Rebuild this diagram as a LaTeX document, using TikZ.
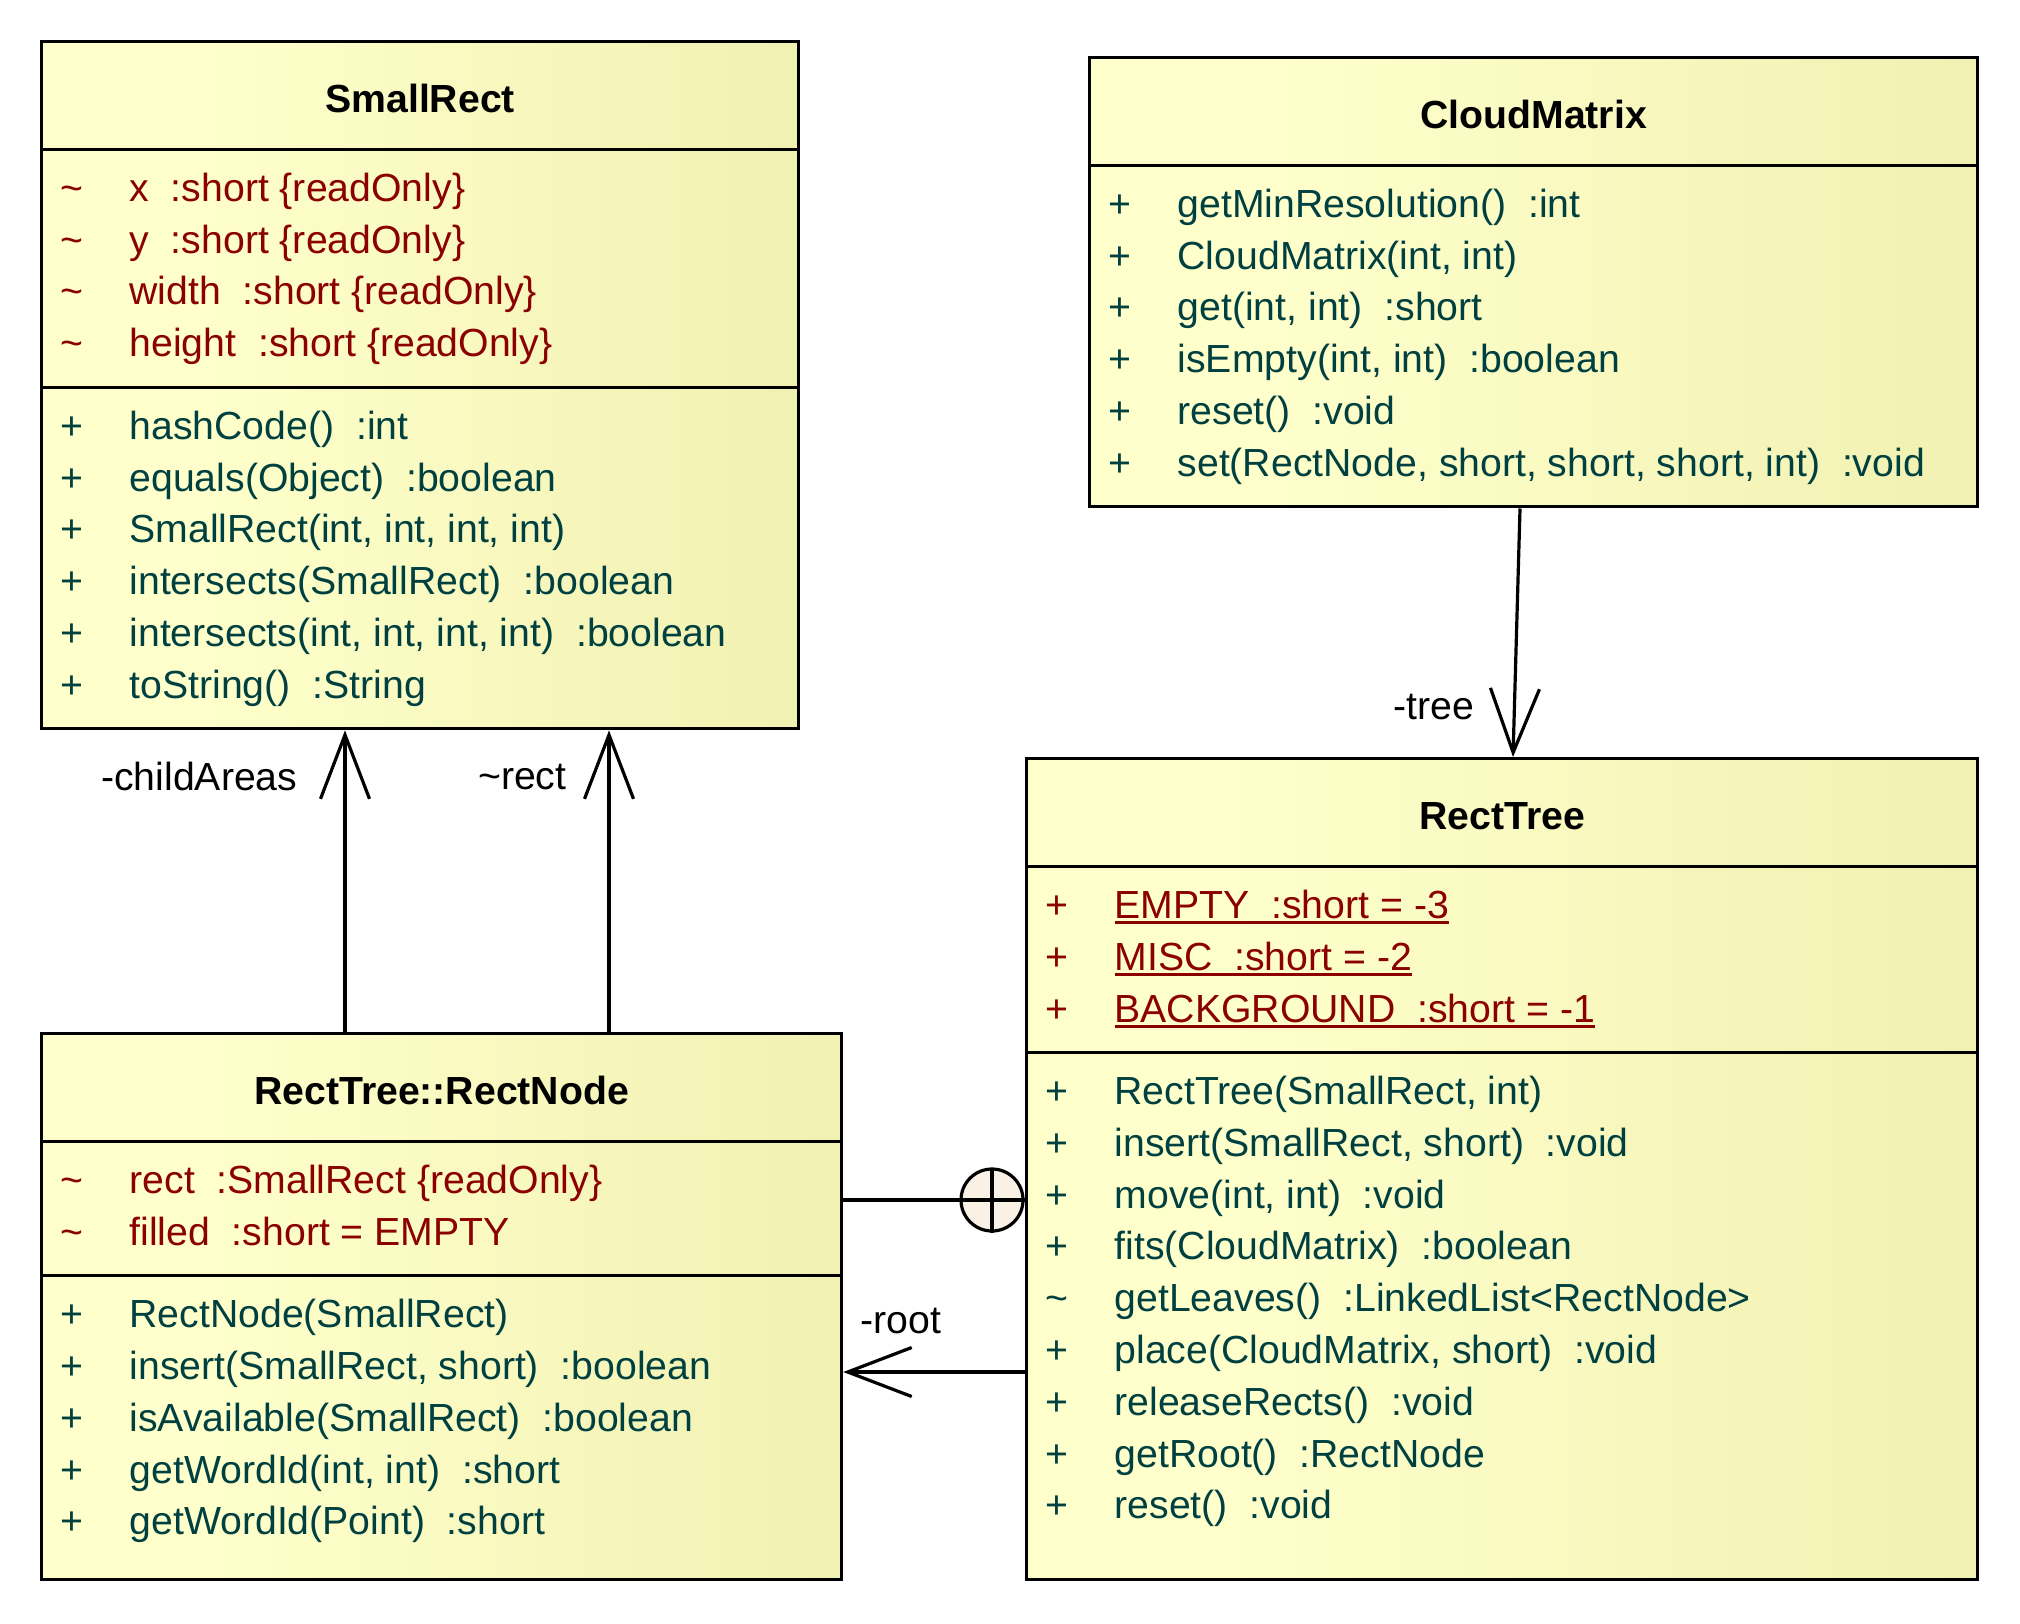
\documentclass[tikz,border=0pt]{standalone}
\usepackage{fontspec}
\setmainfont{Liberation Sans}
\usepackage{array}
\usetikzlibrary{arrows.meta,positioning,shapes.multipart}

\definecolor{attrred}{HTML}{8B0000}
\definecolor{opteal}{HTML}{004040}
\definecolor{nestfill}{HTML}{F9F1E5}
\definecolor{classlight}{HTML}{FFFFCC}
\definecolor{classdark}{HTML}{E8E8A2}
\pgfdeclarehorizontalshading{classgrad}{100bp}{color(0bp)=(classlight); color(35bp)=(classlight); color(100bp)=(classdark)}

\renewcommand{\arraystretch}{0}
\newcommand{\umlfont}{\fontsize{9.8pt}{12pt}\selectfont}
\newcommand{\rowstrut}{\rule[-3.475pt]{0pt}{12.95pt}}
\newcommand{\classtitle}[2]{\makebox[#1]{\rule[-8.9pt]{0pt}{26.15pt}\textbf{#2}}}
\newcommand{\static}[1]{\setbox0\hbox{#1}\rlap{\rule[-1.4pt]{\wd0}{0.7pt}}\box0}
\newcommand{\padrow}[1]{\multicolumn{2}{@{}l@{}}{\rule{0pt}{#1}}}
\newenvironment{members}[1]{\begin{tabular}{@{\hspace{4.625pt}}>{\rowstrut}w{l}{17.375pt}@{}w{l}{\dimexpr#1-22pt\relax}@{}}\padrow{3.125pt}\\}{\\\padrow{3.75pt}\end{tabular}}

\begin{document}
\begin{tikzpicture}[x=0.25pt, y=-0.25pt,
    umlclass/.style={rectangle split, rectangle split parts=3, draw=black, line width=0.8pt,
    inner sep=0pt, anchor=north west, shade, shading=classgrad, font=\umlfont},
    assoc/.style={line width=0.8pt, -{Straight Barb[length=16pt,width=12.25pt]}},
    nest/.style={line width=0.8pt},
    role/.style={font=\umlfont, inner sep=0pt}]
    \useasboundingbox (0,0) rectangle (2020,1624);

    \node (smallrect) [umlclass] at (40,40)
    {%
        \classtitle{189.25pt}{SmallRect}%
        \nodepart{second}\color{attrred}%
        \begin{members}{189.25pt}
            \textasciitilde & x\ \ :short \{readOnly\}\\
            \textasciitilde & y\ \ :short \{readOnly\}\\
            \textasciitilde & width\ \ :short \{readOnly\}\\
            \textasciitilde & height\ \ :short \{readOnly\}
        \end{members}%
        \nodepart{third}\color{opteal}%
        \begin{members}{189.25pt}
            + & hashCode()\ \ :int\\
            + & equals(Object)\ \ :boolean\\
            + & SmallRect(int, int, int, int)\\
            + & intersects(SmallRect)\ \ :boolean\\
            + & intersects(int, int, int, int)\ \ :boolean\\
            + & toString()\ \ :String
        \end{members}%
    };

    \node (cloudmatrix) [umlclass, rectangle split parts=2] at (1088,56)
    {%
        \classtitle{222pt}{CloudMatrix}%
        \nodepart{second}\color{opteal}%
        \begin{members}{222pt}
            + & getMinResolution()\ \ :int\\
            + & CloudMatrix(int, int)\\
            + & get(int, int)\ \ :short\\
            + & isEmpty(int, int)\ \ :boolean\\
            + & reset()\ \ :void\\
            + & set(RectNode, short, short, short, int)\ \ :void
        \end{members}%
    };

    \node (recttree) [umlclass] at (1025,757)
    {%
        \classtitle{237.75pt}{RectTree}%
        \nodepart{second}\color{attrred}%
        \begin{members}{237.75pt}
            + & \static{EMPTY\ \ :short = -3}\\
            + & \static{MISC\ \ :short = -2}\\
            + & \static{BACKGROUND\ \ :short = -1}
        \end{members}%
        \nodepart{third}\color{opteal}%
        \begin{members}{237.75pt}
            + & RectTree(SmallRect, int)\\
            + & insert(SmallRect, short)\ \ :void\\
            + & move(int, int)\ \ :void\\
            + & fits(CloudMatrix)\ \ :boolean\\
            \textasciitilde & getLeaves()\ \ :LinkedList<RectNode>\\
            + & place(CloudMatrix, short)\ \ :void\\
            + & releaseRects()\ \ :void\\
            + & getRoot()\ \ :RectNode\\
            + & reset()\ \ :void\\
            \padrow{7.6pt}
        \end{members}%
    };

    \node (rectnode) [umlclass] at (40,1032)
    {%
        \classtitle{200pt}{RectTree::RectNode}%
        \nodepart{second}\color{attrred}%
        \begin{members}{200pt}
            \textasciitilde & rect\ \ :SmallRect \{readOnly\}\\
            \textasciitilde & filled\ \ :short = EMPTY
        \end{members}%
        \nodepart{third}\color{opteal}%
        \begin{members}{200pt}
            + & RectNode(SmallRect)\\
            + & insert(SmallRect, short)\ \ :boolean\\
            + & isAvailable(SmallRect)\ \ :boolean\\
            + & getWordId(int, int)\ \ :short\\
            + & getWordId(Point)\ \ :short\\
            \padrow{3.6pt}
        \end{members}%
    };

    % associations
    \draw[assoc] ([xshift=76.25pt]rectnode.north west) -- ([xshift=76.25pt]smallrect.south west)
        node[role, pos=0.846, left=11.5pt] {-childAreas};
    \draw[assoc] ([xshift=142.25pt]rectnode.north west) -- ([xshift=142.25pt]smallrect.south west)
        node[role, pos=0.846, left=10.25pt] {\textasciitilde rect};
    \draw[assoc] ([xshift=108pt]cloudmatrix.south west) -- ([xshift=122pt]recttree.north west)
        node[role, pos=0.8, left=9.7pt] {-tree};
    \draw[assoc] ([yshift=-153.75pt]recttree.north west) -- ([yshift=-85pt]rectnode.north east)
        node[role, pos=1, above right=9.25pt and 4pt] {-root};

    % nesting
    \coordinate (nestc) at ([xshift=-8.25pt, yshift=-110.75pt]recttree.north west);
    \draw[nest, fill=nestfill] (nestc) circle[radius=7.75pt];
    \draw[nest] ([yshift=-42pt]rectnode.north east) -- (nestc -| recttree.west);
    \draw[nest] ([yshift=7.75pt]nestc) -- ([yshift=-8.25pt]nestc);
\end{tikzpicture}
\end{document}
